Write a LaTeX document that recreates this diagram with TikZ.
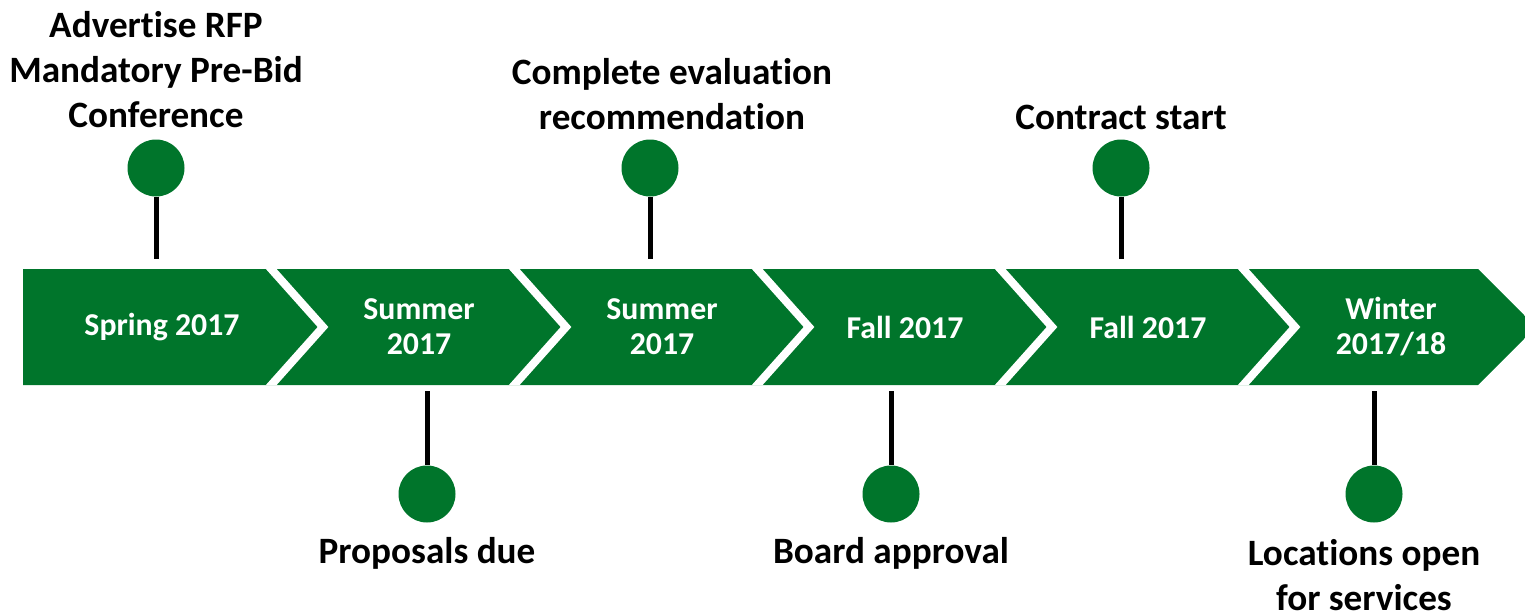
\documentclass[tikz,border=0pt]{standalone}
\usepackage{fontspec}
\setmainfont{Carlito}[Ligatures={NoCommon}]
\definecolor{tlgreen}{RGB}{0,117,43}
\tikzset{
  band/.style={fill=tlgreen},
  joint/.style={draw=white, line width=8pt, line join=miter},
  period/.style={text=white, font=\bfseries\fontsize{31.8}{35}\selectfont, align=center},
  event/.style={text=black, font=\bfseries\fontsize{37.2}{45}\selectfont, align=center},
  dot/.style={circle, fill=tlgreen, minimum size=57pt, inner sep=0pt},
  stem/.style={draw=black, line width=5pt}
}
\begin{document}
\begin{tikzpicture}[x=1pt,y=-1pt]
\clip (0,0) rectangle (1525,613);
% band
\begin{scope}
\clip (23,269) -- (1478,269) -- (1536,327) -- (1478,385) -- (23,385) -- cycle;
\fill[band] (23,269) -- (1478,269) -- (1536,327) -- (1478,385) -- (23,385) -- cycle;
\foreach \t in {327,570,813,1056,1299}{
  \draw[joint] (\t-62,262) -- (\t-4,327) -- (\t-62,392);
}
\end{scope}
% period labels
\node[period] (p1) at (162,327) {Spring 2017};
\node[period] (p2) at (419,327) {Summer\\2017};
\node[period] (p3) at (662,327) {Summer\\2017};
\node[period] (p4) at (905,327) {Fall 2017};
\node[period] (p5) at (1148,327) {Fall 2017};
\node[period] (p6) at (1391,327) {Winter\\2017/18};
% top events
\node[dot] (d1) at (156,168) {};
\node[dot] (d3) at (650,168) {};
\node[dot] (d5) at (1121,168) {};
\coordinate (s1) at (156,259);
\coordinate (s3) at (650,259);
\coordinate (s5) at (1121,259);
\draw[stem] (d1.south) -- (s1);
\draw[stem] (d3.south) -- (s3);
\draw[stem] (d5.south) -- (s5);
\node[event] (e1) at (156,70) {Advertise RFP\\Mandatory Pre-Bid\\Conference};
\node[event] (e3) at (672,94) {Complete evaluation\\recommendation};
\node[event] (e5) at (1121,117) {Contract start};
% bottom events
\node[dot] (d2) at (427,494) {};
\node[dot] (d4) at (891,494) {};
\node[dot] (d6) at (1374,494) {};
\coordinate (b2) at (427,391);
\coordinate (b4) at (891,391);
\coordinate (b6) at (1374,391);
\draw[stem] (b2) -- (d2.north);
\draw[stem] (b4) -- (d4.north);
\draw[stem] (b6) -- (d6.north);
\node[event] (e2) at (427,553) {Proposals due};
\node[event] (e4) at (891,553) {Board approval};
\node[event] (e6) at (1364,575) {Locations open\\for services};
\end{tikzpicture}
\end{document}
